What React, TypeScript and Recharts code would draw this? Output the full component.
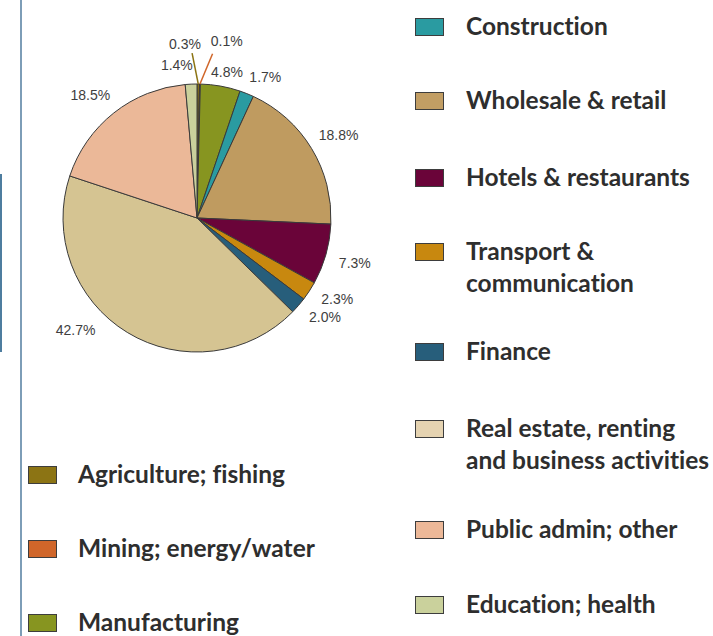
import React from "react";
import { PieChart, Pie, Cell, Legend } from "recharts";

// ---- data ----
const sectors = [
  "Agriculture; fishing",
  "Mining; energy/water",
  "Manufacturing",
  "Construction",
  "Wholesale & retail",
  "Hotels & restaurants",
  "Transport & communication",
  "Finance",
  "Real estate, renting and business activities",
  "Public admin; other",
  "Education; health",
];
const shares = [0.3, 0.1, 4.8, 1.7, 18.8, 7.3, 2.3, 2.0, 42.7, 18.5, 1.4];

// legend display lines (wrapping as in the original)
const legendLines: string[][] = [
  ["Agriculture; fishing"],
  ["Mining; energy/water"],
  ["Manufacturing"],
  ["Construction"],
  ["Wholesale \u0026 retail"],
  ["Hotels \u0026 restaurants"],
  ["Transport \u0026", "communication"],
  ["Finance"],
  ["Real estate, renting", "and business activities"],
  ["Public admin; other"],
  ["Education; health"],
];

// ---- styles ----
const COLORS = [
  "#8c7414",
  "#d0662a",
  "#879520",
  "#2a9ba1",
  "#bf9b60",
  "#6a0439",
  "#c8880f",
  "#275e7b",
  "#d5c492",
  "#ebb898",
  "#cad19c",
];
const LEGEND_COLORS = [
  "#8c7414",
  "#d0662a",
  "#879520",
  "#2a9ba1",
  "#c29e64",
  "#6a0439",
  "#c8880f",
  "#275e7b",
  "#e5d3b1",
  "#ecb898",
  "#cad19c",
];

// label placement tweaks: clockwise angle shift (deg) and radial shift (px)
const LABEL_TWEAKS: { da: number; dr: number; leader?: boolean }[] = [
  { da: -4.5, dr: 12, leader: true },
  { da: 8.3, dr: 17, leader: true },
  { da: 1.5, dr: -13 },
  { da: 4, dr: -5 },
  { da: 1, dr: 2 },
  { da: 0, dr: 2 },
  { da: -3, dr: 0 },
  { da: -3, dr: 0 },
  { da: 16, dr: 3 },
  { da: -2.5, dr: 1 },
  { da: -5, dr: -8 },
];

// legend row placement (cap-centre y) for each sector, and column
const LEGEND_ROWS: { col: "left" | "right"; y: number }[] = [
  { col: "left", y: 475 },
  { col: "left", y: 549 },
  { col: "left", y: 623 },
  { col: "right", y: 27 },
  { col: "right", y: 101 },
  { col: "right", y: 178 },
  { col: "right", y: 252 },
  { col: "right", y: 352 },
  { col: "right", y: 429 },
  { col: "right", y: 530 },
  { col: "right", y: 605 },
];

const data = sectors.map((name, i) => ({ name, value: shares[i] }));

const RAD = Math.PI / 180;

function renderLabel(props: any) {
  const { cx, cy, midAngle, outerRadius, index, value } = props;
  const t = LABEL_TWEAKS[index] || { da: 0, dr: 0 };
  const ang = midAngle - t.da;
  const R = outerRadius + 28 + t.dr;
  const x = cx + R * Math.cos(-ang * RAD);
  const y = cy + R * Math.sin(-ang * RAD);
  const text = `${Number(value).toFixed(1)}%`;
  let line = null;
  if (t.leader) {
    const x0 = cx + outerRadius * Math.cos(-midAngle * RAD);
    const y0 = cy + outerRadius * Math.sin(-midAngle * RAD);
    const a1 = midAngle - t.da * 0.5;
    const r1 = outerRadius + 31;
    const x1 = cx + r1 * Math.cos(-a1 * RAD);
    const y1 = cy + r1 * Math.sin(-a1 * RAD);
    line = (
      <line x1={x0} y1={y0} x2={x1} y2={y1} stroke={COLORS[index]} strokeWidth={1.5} />
    );
  }
  return (
    <g key={`lbl-${index}`}>
      {line}
      <text
        x={x}
        y={y}
        textAnchor="middle"
        dominantBaseline="central"
        fontFamily="'Liberation Sans', Arial, sans-serif"
        fontSize={14}
        fill="#3e3e3e"
      >
        {text}
      </text>
    </g>
  );
}

const LINE_H = 32;
const FONT = 24.5;
// offset from line-box top to cap centre for Lato at this size / 32px line height
const CAP_CENTRE = 16.6;

function LegendContent() {
  return (
    <div style={{ position: "relative", width: 713, height: 636 }}>
      {sectors.map((name, i) => {
        const row = LEGEND_ROWS[i];
        const swX = row.col === "left" ? 28 : 415;
        const txX = row.col === "left" ? 78 : 466;
        return (
          <React.Fragment key={name}>
            <div
              style={{
                position: "absolute",
                left: swX,
                top: row.y - 9,
                width: 27,
                height: 16,
                background: LEGEND_COLORS[i],
                border: "1.5px solid #3d3d3d",
              }}
            />
            <div
              style={{
                position: "absolute",
                left: txX,
                top: row.y - CAP_CENTRE,
                fontFamily: "Lato, 'Open Sans', sans-serif",
                fontWeight: 700,
                fontSize: FONT,
                lineHeight: `${LINE_H}px`,
                color: "#2e2e2e",
                whiteSpace: "nowrap",
                textAlign: "left",
                fontVariantLigatures: "none",
                fontFeatureSettings: "'liga' 0, 'clig' 0",
              }}
            >
              {legendLines[i].map((l, k) => (
                <div key={k}>{l}</div>
              ))}
            </div>
          </React.Fragment>
        );
      })}
    </div>
  );
}

export default function App() {
  return (
    <div
      style={{
        position: "absolute",
        left: 0,
        top: 0,
        width: 713,
        height: 636,
        background: "#ffffff",
        overflow: "hidden",
      }}
    >
      <div
        style={{
          position: "absolute",
          left: 0,
          top: 174,
          width: 2,
          height: 178,
          background: "#4e7d9f",
        }}
      />
      <div
        style={{
          position: "absolute",
          left: 20,
          top: 0,
          width: 2,
          height: 636,
          background: "#7d9db7",
        }}
      />
      <PieChart
        width={713}
        height={636}
        margin={{ top: 0, right: 0, bottom: 0, left: 0 }}
        style={{ position: "absolute", left: 0, top: 0 }}
      >
        <Pie
          data={data}
          dataKey="value"
          nameKey="name"
          cx={197}
          cy={218}
          outerRadius={134}
          startAngle={90}
          endAngle={-270}
          stroke="#3a3a3a"
          strokeWidth={1}
          label={renderLabel}
          labelLine={false}
          isAnimationActive={false}
        >
          {data.map((d, i) => (
            <Cell key={d.name} fill={COLORS[i]} />
          ))}
        </Pie>
        <Legend
          content={() => <LegendContent />}
          wrapperStyle={{ position: "absolute", left: 0, top: 0, width: 713, height: 636 }}
        />
      </PieChart>
    </div>
  );
}
